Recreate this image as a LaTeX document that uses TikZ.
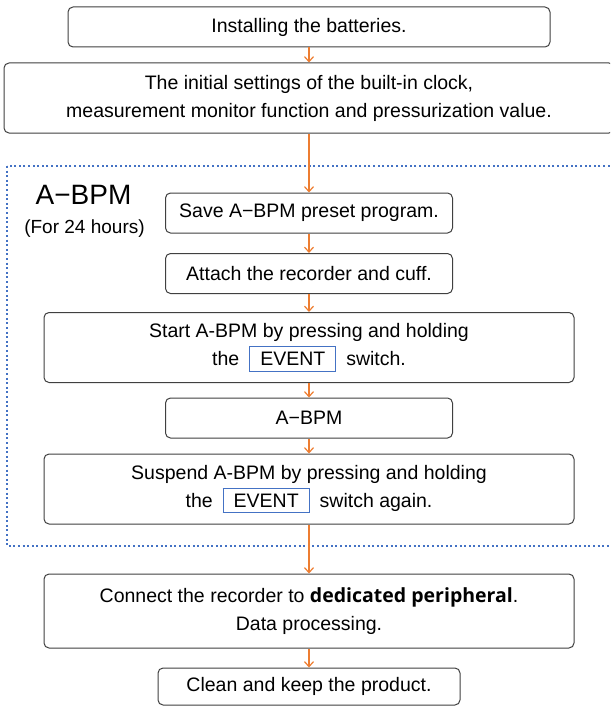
\documentclass[tikz,border=0pt]{standalone}
\usepackage{fontspec}
\setmainfont{Liberation Sans}
\newfontfamily\perfont{Open Sans}
\usepackage{tikz}
\usetikzlibrary{arrows.meta}
\definecolor{arrorange}{HTML}{ED7D31}
\definecolor{frameblue}{HTML}{4472C4}
\definecolor{boxgray}{HTML}{404040}
\newcommand{\eventkey}{\hspace{5pt}{\setlength{\fboxsep}{2.5pt}\setlength{\fboxrule}{0.5pt}\fcolorbox{frameblue}{white}{\hspace{2.5pt}EVENT\hspace{2.5pt}}}\hspace{5pt}}

\begin{document}
\begin{tikzpicture}[
		x=0.5pt, y=-0.5pt,
		box/.style = {draw=boxgray, line width=0.5pt, rounded corners=2.5pt, fill=white, inner sep=0pt, align=center, font=\fontsize{9.75}{14}\selectfont},
		shortbox/.style = {box, minimum width=143.5pt, minimum height=20pt},
		longbox/.style = {box, minimum width=265pt, minimum height=35pt},
		flow/.style = {->, draw=arrorange, line width=0.6pt},
		>={Straight Barb[length=2.5pt,width=4.5pt]}
	]
	\clip (0,0) rectangle (610,706);
	% A-BPM frame
	\draw[frameblue, line width=1pt, dash pattern=on 1pt off 1.3pt] (7,166) rectangle (616,546);
	\node[font=\fontsize{14}{16}\selectfont] (ablabel) at (83.5,195) {A−BPM};
	\node[font=\fontsize{9.5}{11}\selectfont] (hours) at (84.5,229) {(For 24 hours)};

	\node[box, minimum width=241pt, minimum height=20pt] (install) at (309,27) {Installing the batteries.};
	\node[box, minimum width=305pt, minimum height=35pt] (settings) at (309,98) {The initial settings of the built-in clock,\\measurement monitor function and pressurization value.};
	\node[shortbox] (save)    at (309,213)   {Save A−BPM preset program.};
	\node[shortbox] (attach)  at (309,273.5) {Attach the recorder and cuff.};
	\node[longbox]  (start)   at (309,347.5) {Start A-BPM by pressing and holding\\the\eventkey switch.};
	\node[shortbox] (abpm)    at (309,418)   {A−BPM};
	\node[longbox]  (suspend) at (309,489)   {Suspend A-BPM by pressing and holding\\the\eventkey switch again.};
	\node[longbox, minimum height=37pt] (connect) at (309,611) {Connect the recorder to {\perfont\bfseries dedicated peripheral}.\\Data processing.};
	\node[box, minimum width=151pt, minimum height=18.5pt] (clean) at (309,686.5) {Clean and keep the product.};

	\draw[flow] (install) -- (settings);
	\draw[flow] (settings) -- (save);
	\draw[flow] (save) -- (attach);
	\draw[flow] (attach) -- (start);
	\draw[flow] (start) -- (abpm);
	\draw[flow] (abpm) -- (suspend);
	\draw[flow] (suspend) -- (connect);
	\draw[flow] (connect) -- (clean);
\end{tikzpicture}
\end{document}
